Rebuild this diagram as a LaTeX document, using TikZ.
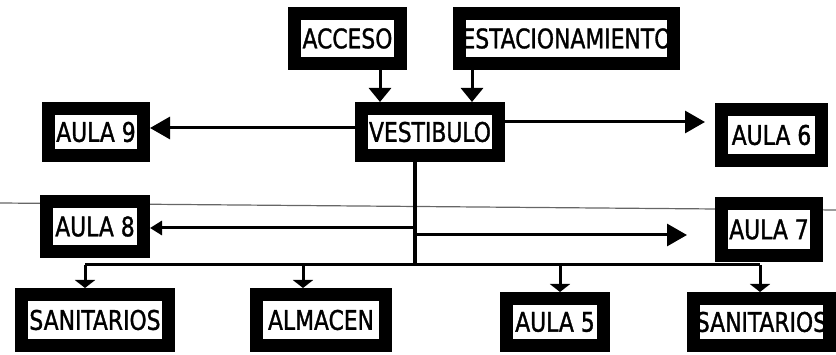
\documentclass[tikz,border=0pt]{standalone}
\usepackage{fontspec}
\newfontfamily\boxfont{DejaVu Sans Condensed}[FakeStretch=0.9, FakeBold=1.2]
\usetikzlibrary{arrows.meta}
\tikzset{
  box/.style={draw=black, fill=white, line width=13pt, inner sep=0pt, text=black,
    font=\boxfont\fontsize{27}{29}\selectfont},
  conn/.style={draw=black, line width=3pt},
  bigtip/.style={-{Triangle[length=20pt,width=22pt]}},
  toptip/.style={-{Triangle[length=14pt,width=22pt]}},
  droptip/.style={-{Triangle[length=8pt,width=20pt]}},
  smalltip/.style={-{Triangle[length=12pt,width=14pt]}},
  scanline/.style={draw=black!60, line width=1.2pt}
}
\begin{document}
\begin{tikzpicture}[x=1pt,y=-1pt]
\useasboundingbox (0,0) rectangle (836,355);
% thin scan line
\coordinate (gl) at (0,203);
\coordinate (gr) at (836,210);
\draw[scanline] (gl) -- (gr);
% boxes
\node[box, minimum width=106pt, minimum height=50pt] (acc) at (347.5,38.5) {ACCESO};
\node[box, minimum width=214pt, minimum height=50pt] (est) at (566.5,38.5) {ESTACIONAMIENTO};
\node[box, minimum width=137pt, minimum height=47pt] (vest) at (430,132) {VESTIBULO};
\node[box, minimum width=95pt, minimum height=47pt] (a9) at (96,132) {AULA 9};
\node[box, minimum width=100pt, minimum height=51pt] (a6) at (771.5,135) {AULA 6};
\node[box, minimum width=97pt, minimum height=50pt] (a8) at (95,226.5) {AULA 8};
\node[box, minimum width=95pt, minimum height=52pt] (a7) at (769,229.5) {AULA 7};
\node[box, minimum width=147pt, minimum height=51pt] (san1) at (95,320) {SANITARIOS};
\node[box, minimum width=129pt, minimum height=51pt] (alm) at (321,320) {ALMACEN};
\node[box, minimum width=97pt, minimum height=47pt] (a5) at (555,322) {AULA 5};
\node[box, minimum width=136pt, minimum height=47pt] (san2) at (761.5,322) {SANITARIOS};
% helper coordinates
\coordinate (xa) at (380,0);
\coordinate (xe) at (472,0);
\coordinate (y9) at (0,128);
\coordinate (y6) at (0,122);
\coordinate (y8) at (0,228);
\coordinate (y7) at (0,235);
\coordinate (tr) at (415,265);
\coordinate (d1) at (85,265);
\coordinate (d2) at (303,265);
\coordinate (d3) at (560,265);
\coordinate (d4) at (760,265);
% connectors
\draw[conn, toptip] (xa |- acc.south) -- (xa |- vest.north);
\draw[conn, toptip] (xe |- est.south) -- (xe |- vest.north);
\draw[conn, bigtip] (vest.west |- y9) -- (a9.east |- y9);
\draw[conn, bigtip] (vest.east |- y6) -- ([xshift=-10pt]a6.west |- y6);
\draw[conn, line width=4pt] (tr |- vest.south) -- (tr);
\draw[conn, smalltip] (tr |- y8) -- (a8.east |- y8);
\draw[conn, bigtip] (tr |- y7) -- ([xshift=-28pt]a7.west |- y7);
\draw[conn] (d1) -- (d4);
\draw[conn, droptip] (d1) -- (d1 |- san1.north);
\draw[conn, droptip] (d2) -- (d2 |- alm.north);
\draw[conn, droptip] (d3) -- (d3 |- a5.north);
\draw[conn, droptip] (d4) -- (d4 |- san2.north);
\end{tikzpicture}
\end{document}
